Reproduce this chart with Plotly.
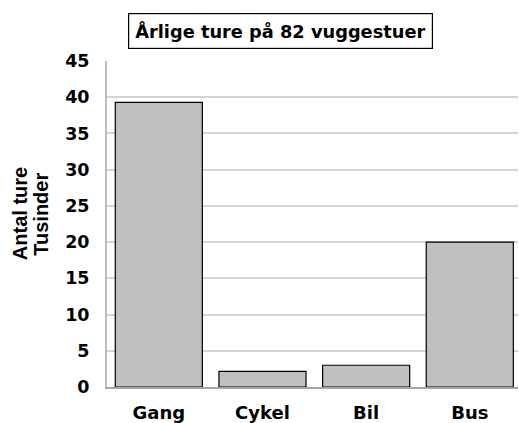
import plotly.graph_objects as go

categories = ["Gang", "Cykel", "Bil", "Bus"]
values = [39.3, 2.15, 3.0, 20.0]
y_ticks = [0, 5, 10, 15, 20, 25, 30, 35, 40, 45]
title_text = "Årlige ture på 82 vuggestuer"
y_title_lines = ["Antal ture", "Tusinder"]

WIDE = "DejaVu Sans, sans-serif"
ARIAL = "Liberation Sans, Arial, sans-serif"

fig = go.Figure(go.Bar(
    x=categories, y=values, width=0.84,
    marker=dict(color="#C0C0C0", line=dict(color="#000000", width=1.2)),
))

fig.update_layout(
    width=519, height=423,
    margin=dict(l=107, r=1, t=61, b=36),
    paper_bgcolor="white", plot_bgcolor="white",
    showlegend=False,
    font=dict(family=WIDE, color="black"),
    xaxis=dict(
        range=[-0.5, 3.465], showgrid=False, showline=True,
        linecolor="#A6A6A6", linewidth=2, ticks="", ticklabelstandoff=8,
        tickfont=dict(family=WIDE, size=18, color="black", weight="bold"),
    ),
    yaxis=dict(
        range=[0, 45], tickvals=y_ticks, showgrid=True, gridcolor="#D4D4D4",
        gridwidth=1.5, showline=True, linecolor="#BDBDBD", linewidth=2,
        zeroline=False, ticks="", ticklabelstandoff=12,
        tickfont=dict(family=WIDE, size=17.5, color="black", weight="bold"),
    ),
    annotations=[
        dict(text=f"<b>{title_text}</b>", xref="paper", yref="paper",
             x=0.423, y=1.092, xanchor="center", yanchor="middle",
             showarrow=False, bordercolor="black", borderwidth=1.2,
             borderpad=6, bgcolor="white",
             font=dict(family=WIDE, size=17.8, color="black")),
        dict(text=f"<b>{y_title_lines[0]}</b>", xref="paper", yref="paper",
             x=-0.211, y=0.531, xanchor="center", yanchor="middle",
             textangle=-90, showarrow=False,
             font=dict(family=ARIAL, size=20, color="black")),
        dict(text=f"<b>{y_title_lines[1]}</b>", xref="paper", yref="paper",
             x=-0.161, y=0.531, xanchor="center", yanchor="middle",
             textangle=-90, showarrow=False,
             font=dict(family=ARIAL, size=20, color="black")),
    ],
)

fig.write_html("out.html", config={"displayModeBar": False},
               post_script="document.body.style.margin='0';")
